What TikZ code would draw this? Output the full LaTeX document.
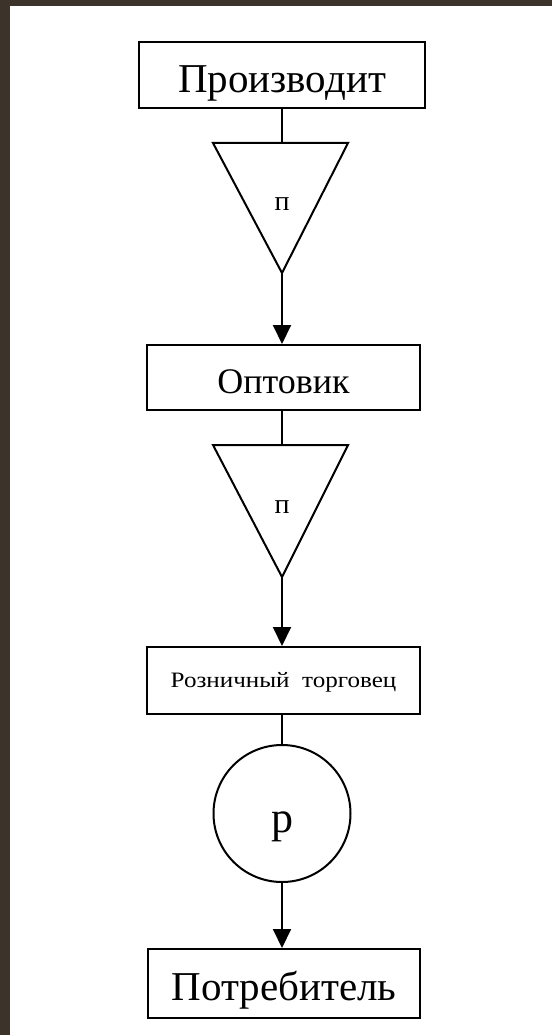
\documentclass[tikz,border=0pt]{standalone}
\usepackage{fontspec}
\setmainfont{Liberation Serif}
\newfontfamily\widefont[FakeStretch=1.14]{Liberation Serif}
\usetikzlibrary{arrows.meta}
\definecolor{frame}{RGB}{60,52,42}
\tikzset{
  stepbox/.style={draw=black, line width=2pt, fill=white, rectangle, inner sep=0pt, text depth=0pt},
  flow/.style={line width=2pt, draw=black},
  flowarrow/.style={flow, -{Triangle[length=19pt,width=18pt]}},
  tri/.style={draw=black, line width=2pt, fill=white, line join=miter},
  lbl/.style={inner sep=0pt, anchor=base}
}
\begin{document}
\begin{tikzpicture}[x=1pt,y=-1pt]
\useasboundingbox (0,0) rectangle (552,1035);
\fill[frame] (0,0) rectangle (552,1035);
\fill[white] (10,6) rectangle (552,1035);

% boxes
\node[stepbox, minimum width=286pt, minimum height=66pt, text height=36pt,
      font=\fontsize{41}{41}\selectfont] (b1) at (282,75) {Производит};
\node[stepbox, minimum width=273pt, minimum height=65pt, text height=31pt,
      font=\fontsize{36}{36}\selectfont] (b2) at (283.5,377.5) {Оптовик};
\node[stepbox, minimum width=273pt, minimum height=67pt, text height=13pt,
      font=\widefont\fontsize{22}{22}\selectfont] (b3) at (283.5,680.5) {Розничный\ \ торговец};
\node[stepbox, minimum width=272pt, minimum height=69pt, text height=33pt,
      font=\fontsize{41}{41}\selectfont] (b4) at (284,983.5) {Потребитель};

% triangle 1
\coordinate (t1top) at (282,143);
\coordinate (t1apex) at (282,273);
\draw[tri] (213,143) -- (348,143) -- (t1apex) -- cycle;
\node[lbl, font=\fontsize{28}{28}\selectfont] (p1) at (282,210) {п};

% triangle 2
\coordinate (t2top) at (282,445);
\coordinate (t2apex) at (282,577);
\draw[tri] (213,445) -- (348,445) -- (t2apex) -- cycle;
\node[lbl, font=\fontsize{28}{28}\selectfont] (p2) at (282,513) {п};

% circle
\node[draw=black, line width=2pt, circle, minimum size=137pt, inner sep=0pt,
      text depth=0pt, text height=38pt, font=\fontsize{44}{44}\selectfont] (c) at (282,813.5) {р};

% connectors
\draw[flow] (b1.south) -- (t1top);
\draw[flowarrow] (t1apex) -- (t1apex |- b2.north);
\draw[flow] (t1apex |- b2.south) -- (t2top);
\draw[flowarrow] (t2apex) -- (t2apex |- b3.north);
\draw[flow] (t2apex |- b3.south) -- (c.north);
\draw[flowarrow] (c.south) -- (c.south |- b4.north);
\end{tikzpicture}
\end{document}
